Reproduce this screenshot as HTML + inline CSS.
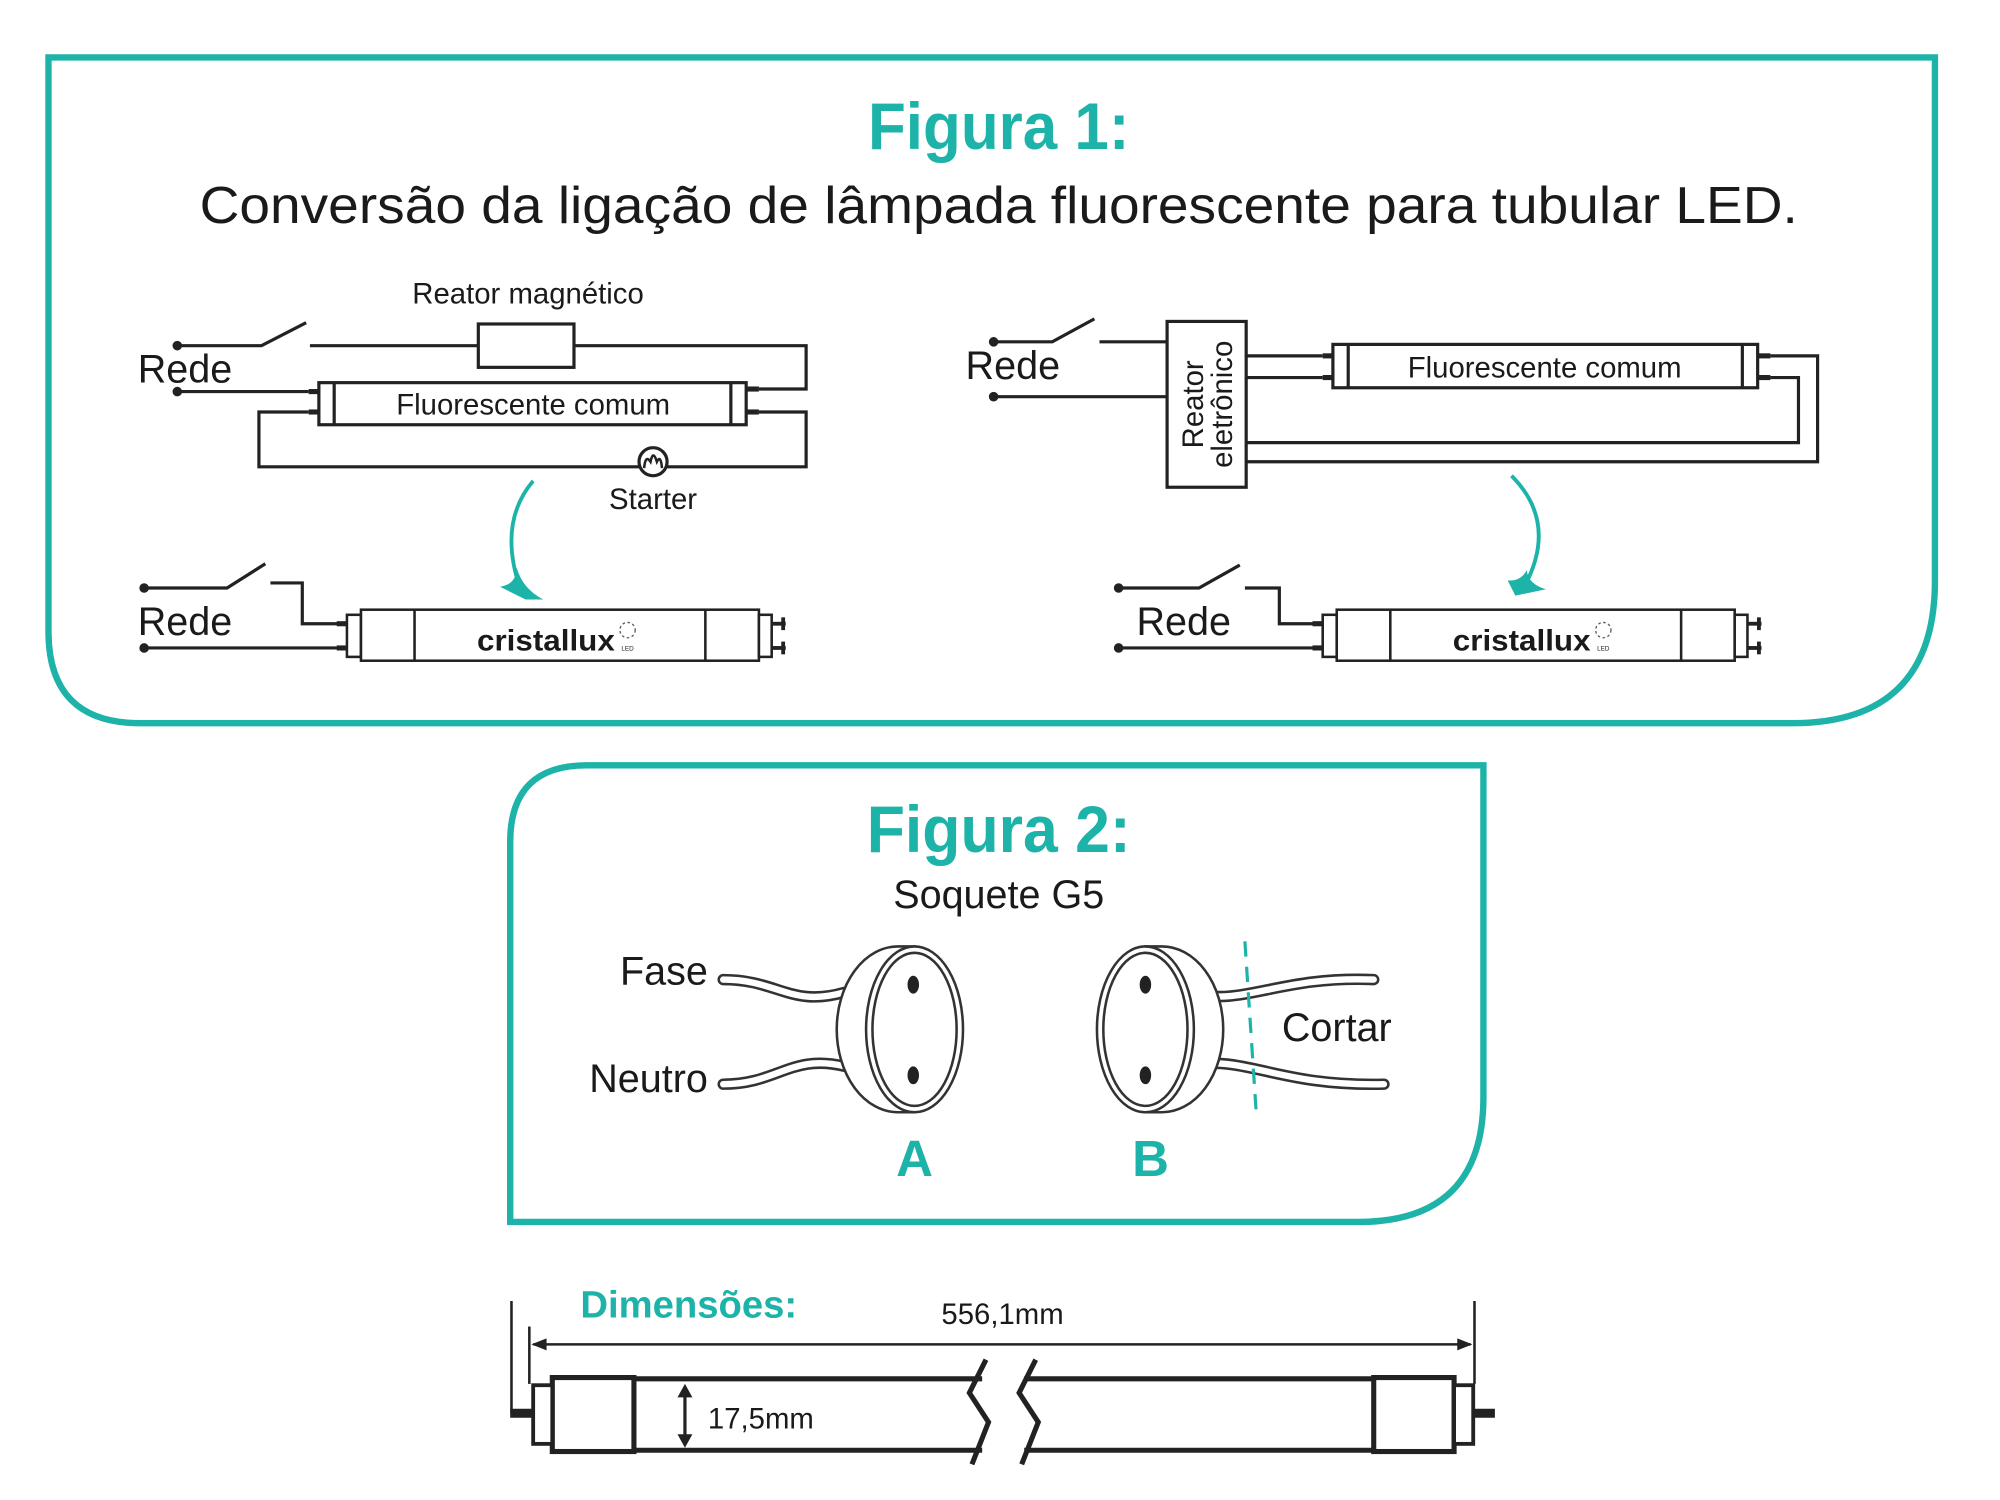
<!DOCTYPE html>
<html><head><meta charset="utf-8"><style>
html,body{margin:0;padding:0;background:#fff;}
svg{display:block;}
text{font-family:"Liberation Sans Narrow","Liberation Sans",sans-serif;fill:#1a1a1a;}
.t{fill:#1db3a8;font-weight:bold;}
</style></head><body>
<svg width="2000" height="1500" viewBox="0 0 1568 1176" preserveAspectRatio="none" xmlns="http://www.w3.org/2000/svg">
<defs>
<g id="led">
  <rect x="272" y="482" width="11" height="33" fill="#fff" stroke="#222" stroke-width="2"/>
  <rect x="283" y="478" width="312" height="40" fill="#fff" stroke="#222" stroke-width="2"/>
  <line x1="325" y1="478" x2="325" y2="518" stroke="#222" stroke-width="2"/>
  <line x1="553" y1="478" x2="553" y2="518" stroke="#222" stroke-width="2"/>
  <rect x="595" y="482" width="10" height="33" fill="#fff" stroke="#222" stroke-width="2"/>
  <line x1="605" y1="489" x2="616" y2="489" stroke="#222" stroke-width="3"/>
  <line x1="605" y1="508" x2="616" y2="508" stroke="#222" stroke-width="3"/>
  <line x1="614" y1="484" x2="614" y2="494" stroke="#222" stroke-width="3"/>
  <line x1="614" y1="503" x2="614" y2="513" stroke="#222" stroke-width="3"/>
  <line x1="264" y1="489" x2="272" y2="489" stroke="#222" stroke-width="4"/>
  <line x1="264" y1="508" x2="272" y2="508" stroke="#222" stroke-width="4"/>
  <text x="428" y="510" text-anchor="middle" font-size="23" font-weight="bold" style="font-family:'Liberation Sans',sans-serif" textLength="108" lengthAdjust="spacingAndGlyphs">cristallux</text>
  <circle cx="492" cy="494" r="6" fill="none" stroke="#555" stroke-width="1" stroke-dasharray="2 2"/>
  <text x="492" y="510" text-anchor="middle" font-size="5">LED</text>
</g>
</defs>

<path d="M38,45 H1517 V455 Q1517,567 1405,567 H110 Q38,567 38,495 Z" fill="none" stroke="#1db3a8" stroke-width="5"/>
<text class="t" x="783" y="117" text-anchor="middle" font-size="52" textLength="205" lengthAdjust="spacingAndGlyphs">Figura 1:</text>
<text x="783" y="175" text-anchor="middle" font-size="41" textLength="1253" lengthAdjust="spacingAndGlyphs">Conversão da ligação de lâmpada fluorescente para tubular LED.</text>

<g stroke="#222" stroke-width="2.5" fill="none">
<circle cx="139" cy="271" r="2.5" fill="#222"/>
<polyline points="139,271 205,271 240,253"/>
<polyline points="243,271 375,271"/>
<rect x="375" y="254" width="75" height="34" fill="#fff"/>
<polyline points="450,271 632,271 632,305 595,305"/>
<circle cx="139" cy="307" r="2.5" fill="#222"/>
<polyline points="139,307 242,307"/>
<polyline points="242,323 203,323 203,366 632,366 632,323 595,323"/>
<rect x="250" y="300" width="335" height="33" fill="#fff"/>
<line x1="262" y1="300" x2="262" y2="333"/>
<line x1="573" y1="300" x2="573" y2="333"/>
<line x1="242" y1="307" x2="250" y2="307" stroke-width="4"/>
<line x1="242" y1="323" x2="250" y2="323" stroke-width="4"/>
<line x1="585" y1="305" x2="595" y2="305" stroke-width="4"/>
<line x1="585" y1="323" x2="595" y2="323" stroke-width="4"/>
<circle cx="512" cy="362" r="11" fill="#fff"/>
<path d="M505,367 Q506,356 510,362 Q512,352 515,362 Q518,356 519,367" stroke-width="2"/>
<circle cx="113" cy="461" r="2.5" fill="#222"/>
<polyline points="113,461 178,461 208,442"/>
<polyline points="212,457 237,457 237,489 266,489"/>
<circle cx="113" cy="508" r="2.5" fill="#222"/>
<polyline points="113,508 266,508"/>

<circle cx="779" cy="268" r="2.5" fill="#222"/>
<polyline points="779,268 825,268 858,250"/>
<polyline points="862,268 915,268"/>
<circle cx="779" cy="311" r="2.5" fill="#222"/>
<polyline points="779,311 915,311"/>
<rect x="915" y="252" width="62" height="130" fill="#fff"/>
<polyline points="977,279 1037,279"/>
<polyline points="977,296 1037,296"/>
<rect x="1045" y="270" width="333" height="34" fill="#fff"/>
<line x1="1057" y1="270" x2="1057" y2="304"/>
<line x1="1366" y1="270" x2="1366" y2="304"/>
<line x1="1037" y1="279" x2="1045" y2="279" stroke-width="4"/>
<line x1="1037" y1="296" x2="1045" y2="296" stroke-width="4"/>
<line x1="1378" y1="279" x2="1388" y2="279" stroke-width="4"/>
<line x1="1378" y1="296" x2="1388" y2="296" stroke-width="4"/>
<polyline points="1388,279 1425,279 1425,362 977,362"/>
<polyline points="1388,296 1410,296 1410,347 977,347"/>
<circle cx="877" cy="461" r="2.5" fill="#222"/>
<polyline points="877,461 940,461 972,443"/>
<polyline points="976,461 1003,461 1003,489 1031,489"/>
<circle cx="877" cy="508" r="2.5" fill="#222"/>
<polyline points="877,508 1031,508"/>
</g>
<use href="#led"/>
<use href="#led" transform="translate(765,0)"/>

<text x="414" y="238" text-anchor="middle" font-size="23">Reator magnético</text>
<text x="418" y="325" text-anchor="middle" font-size="23">Fluorescente comum</text>
<text x="512" y="399" text-anchor="middle" font-size="23">Starter</text>
<text x="108" y="300" font-size="31">Rede</text>
<text x="108" y="498" font-size="31">Rede</text>
<text x="757" y="297" font-size="31">Rede</text>
<text x="891" y="498" font-size="31">Rede</text>
<text x="1211" y="296" text-anchor="middle" font-size="23">Fluorescente comum</text>
<text transform="translate(943,317) rotate(-90)" text-anchor="middle" font-size="23" style="font-family:'Liberation Sans',sans-serif">Reator</text>
<text transform="translate(966,317) rotate(-90)" text-anchor="middle" font-size="23" style="font-family:'Liberation Sans',sans-serif">eletrônico</text>

<path d="M418,377 Q390,410 408,462" fill="none" stroke="#1db3a8" stroke-width="3"/>
<path d="M412,470 L392,460 Q405,458 405,445 Z M412,470 L426,470 Q410,462 405,445" fill="#1db3a8"/>
<path d="M1185,373 Q1222,410 1195,460" fill="none" stroke="#1db3a8" stroke-width="3"/>
<path d="M1188,467 L1212,462 Q1198,458 1197,447 Z M1188,467 L1182,455 Q1192,456 1197,447" fill="#1db3a8"/>

<path d="M460,600 H1163 V860 Q1163,958 1065,958 H400 V660 Q400,600 460,600 Z" fill="none" stroke="#1db3a8" stroke-width="5"/>
<text class="t" x="783" y="668" text-anchor="middle" font-size="52" textLength="207" lengthAdjust="spacingAndGlyphs">Figura 2:</text>
<text x="783" y="712" text-anchor="middle" font-size="31">Soquete G5</text>

<g fill="none" stroke-linecap="round">
<path d="M567,768 C610,768 620,790 662,778" stroke="#333" stroke-width="9"/>
<path d="M567,768 C610,768 620,790 662,778" stroke="#fff" stroke-width="5"/>
<path d="M567,850 C610,850 620,826 662,836" stroke="#333" stroke-width="9"/>
<path d="M567,850 C610,850 620,826 662,836" stroke="#fff" stroke-width="5"/>
<path d="M933,778 C975,790 1000,765 1077,768" stroke="#333" stroke-width="9"/>
<path d="M933,778 C975,790 1000,765 1077,768" stroke="#fff" stroke-width="5"/>
<path d="M933,836 C975,826 1000,852 1085,850" stroke="#333" stroke-width="9"/>
<path d="M933,836 C975,826 1000,852 1085,850" stroke="#fff" stroke-width="5"/>
</g>
<g stroke="#333" stroke-width="2" fill="#fff">
<path d="M704,742 L717,742 L717,872 L704,872 A48,65 0 0 1 704,742 Z"/>
<ellipse cx="717" cy="807" rx="38" ry="65"/>
<ellipse cx="717" cy="807" rx="33" ry="60"/>
<path d="M898,742 L911,742 A48,65 0 0 1 911,872 L898,872 Z"/>
<ellipse cx="898" cy="807" rx="38" ry="65"/>
<ellipse cx="898" cy="807" rx="33" ry="60"/>
</g>
<ellipse cx="716" cy="772" rx="4.5" ry="7" fill="#222"/>
<ellipse cx="716" cy="843" rx="4.5" ry="7" fill="#222"/>
<ellipse cx="898" cy="772" rx="4.5" ry="7" fill="#222"/>
<ellipse cx="898" cy="843" rx="4.5" ry="7" fill="#222"/>
<line x1="976" y1="738" x2="985" y2="874" stroke="#1db3a8" stroke-width="2.5" stroke-dasharray="12 8"/>
<text x="555" y="772" text-anchor="end" font-size="31">Fase</text>
<text x="555" y="856" text-anchor="end" font-size="31">Neutro</text>
<text x="1005" y="816" font-size="31">Cortar</text>
<text class="t" x="717" y="922" text-anchor="middle" font-size="40">A</text>
<text class="t" x="902" y="922" text-anchor="middle" font-size="40">B</text>

<text class="t" x="455" y="1033" font-size="30">Dimensões:</text>
<text x="786" y="1038" text-anchor="middle" font-size="23">556,1mm</text>
<g stroke="#222" fill="none">
<line x1="401" y1="1020" x2="401" y2="1108" stroke-width="2"/>
<line x1="415" y1="1040" x2="415" y2="1085" stroke-width="2"/>
<line x1="1156" y1="1020" x2="1156" y2="1085" stroke-width="2"/>
<line x1="418" y1="1054" x2="1153" y2="1054" stroke-width="2"/>
<path d="M418,1054 l10,-4 v8 z M1153,1054 l-10,-4 v8 z" fill="#222"/>
<g stroke-width="4">
<path d="M433,1081 H770 M433,1137 H770"/>
<path d="M773,1066 L760,1092 L775,1115 L762,1148"/>
<path d="M812,1066 L799,1092 L814,1115 L801,1148"/>
<path d="M803,1081 H1140 M803,1137 H1140"/>
<rect x="433" y="1080" width="64" height="58" fill="#fff"/>
<rect x="1077" y="1080" width="63" height="58" fill="#fff"/>
<rect x="418" y="1086" width="15" height="46" fill="#fff" stroke-width="3"/>
<rect x="1140" y="1086" width="15" height="46" fill="#fff" stroke-width="3"/>
</g>
<line x1="400" y1="1108" x2="418" y2="1108" stroke-width="7"/>
<line x1="1155" y1="1108" x2="1172" y2="1108" stroke-width="7"/>
<line x1="537" y1="1089" x2="537" y2="1131" stroke-width="2.5"/>
<path d="M537,1086 l-5,9 h10 z M537,1134 l-5,-9 h10 z" fill="#222"/>
</g>
<text x="555" y="1120" font-size="23">17,5mm</text>
</svg>
</body></html>
